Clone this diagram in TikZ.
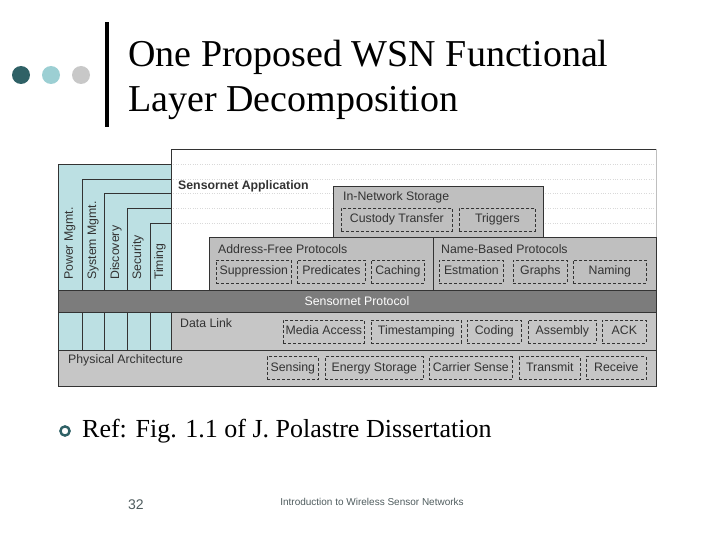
\documentclass[tikz,border=0pt]{standalone}
\usepackage{fontspec}
\setmainfont{Liberation Serif}
\setsansfont{Liberation Sans}
\usepackage{tikz}
\usetikzlibrary{positioning}
\usepackage{xcolor}
\definecolor{ink}{HTML}{333333}
\definecolor{dotdark}{HTML}{2F6166}
\definecolor{dotlight}{HTML}{9CCFD3}
\definecolor{dotgray}{HTML}{C8C8C8}
\definecolor{colblue}{HTML}{BCE0E3}
\definecolor{boxgray}{HTML}{BFBFBF}
\definecolor{layergray}{HTML}{C6C6C6}
\definecolor{protogray}{HTML}{7C7C7C}
\definecolor{footgray}{HTML}{4F5C5E}

\begin{document}
\begin{tikzpicture}[x=1pt, y=-1pt, font=\sffamily\fontsize{12.3}{14}\selectfont,
      unit/.style={draw=ink, dash pattern=on 3pt off 2pt, line width=0.7pt,
                   minimum height=23pt, inner sep=0pt, anchor=west, text=ink,
                   text height=8.8pt, text depth=2.2pt},
      lbl/.style={anchor=west, inner sep=0pt, text=ink},
      collbl/.style={rotate=90, anchor=west, inner sep=0pt, text=ink},
      layer/.style={draw=ink, line width=0.7pt}]
    \useasboundingbox (0,0) rectangle (720,540);

    % title
    \fill[dotdark] (21,75) circle (9);
    \fill[dotlight] (51,75) circle (9);
    \fill[dotgray] (81,75) circle (9);
    \fill[black] (105,22) rectangle (109,127);
    \node[anchor=base west, inner sep=0pt, font=\rmfamily\fontsize{38}{42}\selectfont]
        (title1) at (128,67) {One Proposed WSN Functional};
    \node[anchor=base west, inner sep=0pt, font=\rmfamily\fontsize{38}{42}\selectfont]
        (title2) at (128,112) {Layer Decomposition};

    % application area
    \fill[white] (171,149) rectangle (656,290);
    \foreach \y in {164,179,193,208,223}
      \draw[gray!30, dotted] (171,\y) -- (656,\y);
    \draw[layer] (171,290) -- (171,149) -- (656,149);
    \draw[gray!50] (656,149) -- (656,386);
    \node[lbl, font=\sffamily\bfseries\fontsize{12.3}{14}\selectfont] (app) at (178,186) {Sensornet Application};

    % vertical services
    \foreach \x/\top/\mid/\txt [count=\i] in {58/164/70/Power Mgmt., 82/179/93/System Mgmt.,
        104/193/116/Discovery, 127/208/138/Security, 150/223/160/Timing}{
      \fill[colblue] (\x,\top) rectangle (171,350);
      \draw[layer] (\x,350) |- (171,\top);
      \node[collbl] (col\i) at (\mid,280) {\txt};
    }

    % protocol layers
    \filldraw[layer, fill=protogray] (58,290) rectangle (656,312);
    \node[text=white, inner sep=0pt] (proto) at (357,301) {Sensornet Protocol};
    \filldraw[layer, fill=layergray] (171,312) rectangle (656,350);
    \node[lbl] (dlink) at (180,323) {Data Link};
    \filldraw[layer, fill=layergray] (58,350) rectangle (656,386);
    \node[lbl] (phys) at (68,360) {Physical Architecture};

    \filldraw[layer, fill=boxgray] (333,237) |- (543,186) -- (543,237);
    \node[lbl] (innet) at (343,197) {In-Network Storage};
    \filldraw[layer, fill=boxgray] (209,237) rectangle (433,290);
    \node[lbl] (afree) at (218,249) {Address-Free Protocols};
    \filldraw[layer, fill=boxgray] (433,237) rectangle (656,290);
    \node[lbl] (nbased) at (441,249) {Name-Based Protocols};

    % components
    \node[unit, minimum width=111] (custody) at (341,219.5) {Custody Transfer};
    \node[unit, minimum width=76] (trig) at (459,219.5) {Triggers};

    \node[unit, minimum width=75] (supp) at (216,271.5) {Suppression};
    \node[unit, minimum width=68] (pred) at (297,271.5) {Predicates};
    \node[unit, minimum width=53] (cach) at (371,271.5) {Caching};
    \node[unit, minimum width=64] (estm) at (439,271.5) {Estmation};
    \node[unit, minimum width=54] (graph) at (513,271.5) {Graphs};
    \node[unit, minimum width=73] (naming) at (573,271.5) {Naming};

    \node[unit, minimum width=81] (media) at (283,331.5) {Media Access};
    \node[unit, minimum width=90] (tstamp) at (371,331.5) {Timestamping};
    \node[unit, minimum width=54] (coding) at (467,331.5) {Coding};
    \node[unit, minimum width=68] (assem) at (528,331.5) {Assembly};
    \node[unit, minimum width=44] (ack) at (602,331.5) {ACK};

    \node[unit, minimum width=51] (sens) at (267,368) {Sensing};
    \node[unit, minimum width=98] (energy) at (325,368) {Energy Storage};
    \node[unit, minimum width=83] (carrier) at (429,368) {Carrier Sense};
    \node[unit, minimum width=61] (trans) at (519,368) {Transmit};
    \node[unit, minimum width=60] (recv) at (586,368) {Receive};

    % reference and footer
    \draw[dotdark, line width=2.4pt] (65,431) circle (4.6);
    \node[anchor=base west, inner sep=0pt, font=\rmfamily\fontsize{26}{30}\selectfont]
        (ref) at (82,437) {Ref: Fig. 1.1 of J. Polastre Dissertation};
    \node[anchor=base west, inner sep=0pt, text=footgray, font=\sffamily\fontsize{14}{16}\selectfont]
        (page) at (128,509) {32};
    \node[anchor=base, inner sep=0pt, text=footgray, font=\sffamily\fontsize{10}{12}\selectfont]
        (foot) at (372,505) {Introduction to Wireless Sensor Networks};
  \end{tikzpicture}
\end{document}
